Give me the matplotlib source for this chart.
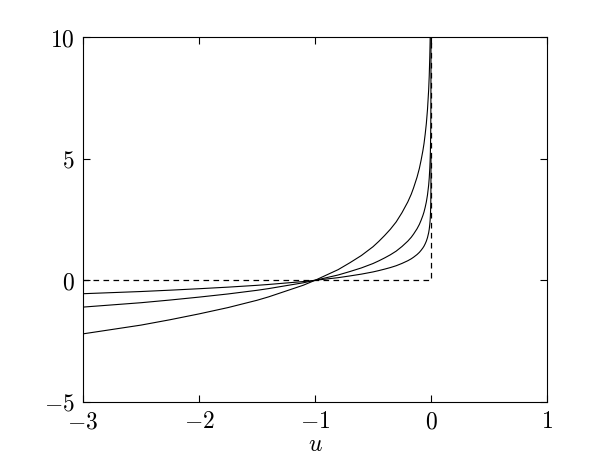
import numpy as np
import matplotlib
matplotlib.use("Agg")
import matplotlib.pyplot as plt

plt.rcParams['mathtext.fontset'] = 'cm'
plt.rcParams['font.family'] = 'serif'

# points (shared u grid)
u = [-3.0, -2.75, -2.5, -2.25, -2.0, -1.75, -1.6, -1.5, -1.4, -1.25, -1.1, -1.0,
     -0.9, -0.8, -0.7, -0.6, -0.5, -0.45, -0.4, -0.35, -0.3, -0.25, -0.2, -0.17,
     -0.15, -0.12, -0.1, -0.085, -0.07, -0.06, -0.05, -0.04, -0.03, -0.02, -0.015,
     -0.01, -0.0075, -0.005, -0.003, -0.002, -0.001, -0.0005, -0.0002, -0.0001,
     -0.00005, -0.00003]
y_mid = [-1.10, -1.01, -0.92, -0.81, -0.69, -0.56, -0.47, -0.41, -0.34, -0.22, -0.10, 0.00,
         0.11, 0.22, 0.36, 0.51, 0.69, 0.80, 0.92, 1.05, 1.20, 1.39, 1.61, 1.77,
         1.90, 2.12, 2.30, 2.47, 2.66, 2.81, 3.00, 3.22, 3.51, 3.91, 4.20,
         4.61, 4.89, 5.30, 5.81, 6.21, 6.91, 7.60, 8.52, 9.21,
         9.90, 10.41]
y_low = [v / 2 for v in y_mid]
y_high = [v * 2 for v in y_mid]

# dashed indicator: zero for u<0, then vertical at u=0
ind_u = [-3, 0, 0]
ind_y = [0, 0, 10]

fig = plt.figure(figsize=(6.07, 4.65), dpi=100)
ax = fig.add_axes([0.1367, 0.1355, 0.7644, 0.7849])

for ys in (y_low, y_mid, y_high):
    ax.plot(u, ys, color='black', lw=0.8)
ax.plot(ind_u, ind_y, color='black', lw=0.9, dashes=(4.5, 3.5))

ax.set_xlim(-3, 1)
ax.set_ylim(-5, 10)
ax.set_xticks([-3, -2, -1, 0, 1])
ax.set_yticks([-5, 0, 5, 10])
ax.set_xticklabels([r'$%d$' % v for v in [-3, -2, -1, 0, 1]])
ax.set_yticklabels([r'$%d$' % v for v in [-5, 0, 5, 10]])
ax.tick_params(direction='in', top=True, right=True, labelsize=17, length=5, width=0.8, pad=6)
for s in ax.spines.values():
    s.set_linewidth(0.8)
ax.set_xlabel(r'$u$', fontsize=17, labelpad=0)

fig.savefig('out.png', dpi=100)
